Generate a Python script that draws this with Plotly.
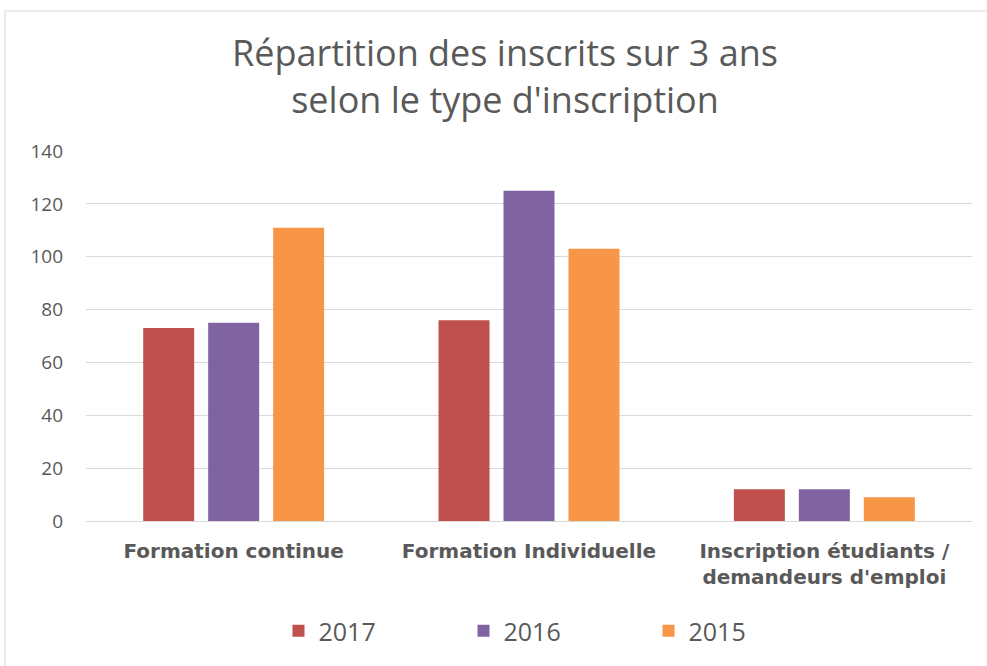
import plotly.graph_objects as go

categories = ["Formation continue", "Formation Individuelle", "Inscription étudiants /<br>demandeurs d'emploi"]
series_names = ["2017", "2016", "2015"]
values_2017 = [73, 76, 12]
values_2016 = [75, 125, 12]
values_2015 = [111, 103, 9]
colors = ["#C0504D", "#8064A2", "#F79646"]
y_ticks = [0, 20, 40, 60, 80, 100, 120, 140]

W, H = 987, 666
ml, mr, mt, mb = 86, 15, 151, 145
pw = W - ml - mr
ph = H - mt - mb

fig = go.Figure()
for name, vals, col in zip(series_names, [values_2017, values_2016, values_2015], colors):
    fig.add_trace(go.Bar(name=name, x=categories, y=vals, marker=dict(color=col, line=dict(width=0))))

fam = "Open Sans, sans-serif"
fig.update_layout(
    width=W, height=H,
    margin=dict(l=ml, r=mr, t=mt, b=mb),
    paper_bgcolor="white", plot_bgcolor="white",
    barmode="group", bargap=0.34, bargroupgap=0.215,
    font=dict(family=fam, color="#595959"),
    title=dict(text="Répartition des inscrits sur 3 ans<br>selon le type d'inscription",
               x=505 / W, xanchor="center", y=1 - 66 / H, yanchor="middle",
               font=dict(size=36, color="#595959", family=fam)),
    legend=dict(orientation="h", x=0.5 + 27 / pw, xanchor="center", y=-(631 - 521) / ph, yanchor="middle",
                font=dict(size=25, color="#595959", family=fam), entrywidth=140,
                itemsizing="constant", traceorder="normal"),
    showlegend=True,
)
fig.update_yaxes(range=[0, 140], tickvals=y_ticks, showgrid=True, gridcolor="#D9D9D9", gridwidth=1,
                 zeroline=False, showline=False, ticks="", ticklabelstandoff=22,
                 tickfont=dict(size=19, color="#595959", family=fam))
fig.update_xaxes(showline=True, linecolor="#D9D9D9", linewidth=1, ticks="", ticklabelstandoff=12,
                 tickfont=dict(size=20, color="#595959", family="DejaVu Sans, sans-serif", weight="bold"))

# chart border
fig.add_shape(type="rect", xref="paper", yref="paper",
              x0=(5 - ml) / pw, x1=(1010 - ml) / pw,
              y0=-(700 - (H - mb)) / ph, y1=((H - mb) - 11) / ph,
              line=dict(color="#D9D9D9", width=1), fillcolor="rgba(0,0,0,0)", layer="below")

fig.write_html("out.html", config={"displayModeBar": False},
               post_script="document.body.style.margin='0';")
